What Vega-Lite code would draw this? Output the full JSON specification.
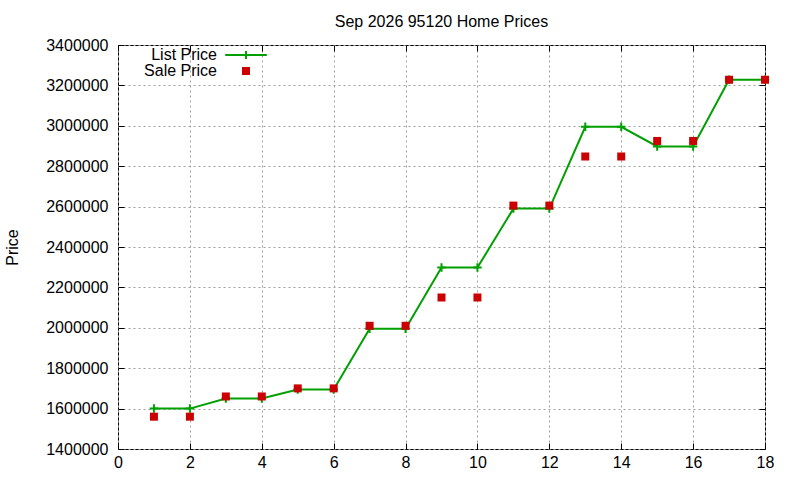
{
  "$schema": "https://vega.github.io/schema/vega-lite/v6.json",
  "autosize": "none",
  "width": 647,
  "height": 404,
  "padding": {"left": 118, "top": 45, "right": 35, "bottom": 31},
  "background": "white",
  "title": {
    "text": "Sep 2026 95120 Home Prices",
    "fontSize": 16,
    "font": "Liberation Sans",
    "fontWeight": "normal",
    "anchor": "middle",
    "frame": "group",
    "offset": 7,
    "color": "black"
  },
  "config": {
    "view": {"stroke": "black", "strokeWidth": 1},
    "axis": {
      "labelFont": "Liberation Sans",
      "labelFontSize": 16,
      "labelColor": "black",
      "titleFont": "Liberation Sans",
      "titleFontSize": 16,
      "titleColor": "black",
      "titleFontWeight": "normal",
      "domain": false,
      "tickColor": "black",
      "tickSize": -6,
      "tickWidth": 1,
      "gridColor": "#a0a0a0",
      "gridDash": [2, 3],
      "gridWidth": 1,
      "gridOpacity": 1,
      "labelFlush": false,
      "labelOverlap": false
    },
    "legend": {
      "orient": "none",
      "legendX": 120,
      "legendY": 2,
      "padding": 0,
      "rowPadding": 0,
      "labelFont": "Liberation Sans",
      "labelFontSize": 16,
      "labelColor": "black",
      "labelAlign": "right",
      "labelOffset": -37,
      "symbolSize": 64,
      "symbolStrokeWidth": 2
    }
  },
  "data": {
    "values": [
      {"month": 1, "series": "List Price", "price": 1600000},
      {"month": 2, "series": "List Price", "price": 1600000},
      {"month": 3, "series": "List Price", "price": 1650000},
      {"month": 4, "series": "List Price", "price": 1650000},
      {"month": 5, "series": "List Price", "price": 1695000},
      {"month": 6, "series": "List Price", "price": 1695000},
      {"month": 7, "series": "List Price", "price": 1995000},
      {"month": 8, "series": "List Price", "price": 1995000},
      {"month": 9, "series": "List Price", "price": 2298000},
      {"month": 10, "series": "List Price", "price": 2298000},
      {"month": 11, "series": "List Price", "price": 2590000},
      {"month": 12, "series": "List Price", "price": 2590000},
      {"month": 13, "series": "List Price", "price": 2995000},
      {"month": 14, "series": "List Price", "price": 2995000},
      {"month": 15, "series": "List Price", "price": 2898000},
      {"month": 16, "series": "List Price", "price": 2898000},
      {"month": 17, "series": "List Price", "price": 3228000},
      {"month": 18, "series": "List Price", "price": 3228000},
      {"month": 1, "series": "Sale Price", "price": 1560000},
      {"month": 2, "series": "Sale Price", "price": 1560000},
      {"month": 3, "series": "Sale Price", "price": 1660000},
      {"month": 4, "series": "Sale Price", "price": 1660000},
      {"month": 5, "series": "Sale Price", "price": 1700000},
      {"month": 6, "series": "Sale Price", "price": 1700000},
      {"month": 7, "series": "Sale Price", "price": 2010000},
      {"month": 8, "series": "Sale Price", "price": 2010000},
      {"month": 9, "series": "Sale Price", "price": 2150000},
      {"month": 10, "series": "Sale Price", "price": 2150000},
      {"month": 11, "series": "Sale Price", "price": 2605000},
      {"month": 12, "series": "Sale Price", "price": 2605000},
      {"month": 13, "series": "Sale Price", "price": 2848000},
      {"month": 14, "series": "Sale Price", "price": 2848000},
      {"month": 15, "series": "Sale Price", "price": 2925000},
      {"month": 16, "series": "Sale Price", "price": 2925000},
      {"month": 17, "series": "Sale Price", "price": 3228000},
      {"month": 18, "series": "Sale Price", "price": 3228000}
    ]
  },
  "layer": [
    {
      "transform": [{"filter": "datum.series === 'List Price'"}],
      "mark": {"type": "line", "color": "#00a000", "strokeWidth": 2},
      "encoding": {
        "x": {
          "field": "month",
          "type": "quantitative",
          "scale": {"domain": [0, 18], "nice": false, "zero": false},
          "axis": {
            "values": [0, 2, 4, 6, 8, 10, 12, 14, 16, 18],
            "title": null,
            "grid": true,
            "labelPadding": 11
          }
        },
        "y": {
          "field": "price",
          "type": "quantitative",
          "scale": {"domain": [1400000, 3400000], "nice": false, "zero": false},
          "axis": {
            "values": [1400000, 1600000, 1800000, 2000000, 2200000, 2400000, 2600000, 2800000, 3000000, 3200000, 3400000],
            "format": "d",
            "title": "Price",
            "titleAngle": -90,
            "titleX": -106,
            "titleY": 202,
            "titleBaseline": "middle",
            "titleAlign": "center",
            "labelPadding": 16,
            "grid": true
          }
        }
      }
    },
    {
      "transform": [{"filter": "datum.series === 'List Price'"}],
      "mark": {"type": "point", "shape": "M-1,0L1,0M0,-1L0,1", "size": 72, "strokeWidth": 2, "opacity": 1, "filled": false, "color": "#00a000"},
      "encoding": {
        "x": {"field": "month", "type": "quantitative", "axis": null},
        "y": {"field": "price", "type": "quantitative", "axis": null}
      }
    },
    {
      "transform": [{"filter": "datum.series === 'Sale Price'"}],
      "mark": {"type": "point", "size": 64, "strokeWidth": 2, "opacity": 1, "filled": false},
      "encoding": {
        "x": {
          "field": "month",
          "type": "quantitative",
          "axis": {
            "orient": "top",
            "values": [0, 2, 4, 6, 8, 10, 12, 14, 16, 18],
            "labels": false,
            "grid": false,
            "title": null
          }
        },
        "y": {
          "field": "price",
          "type": "quantitative",
          "axis": {
            "orient": "right",
            "values": [1400000, 1600000, 1800000, 2000000, 2200000, 2400000, 2600000, 2800000, 3000000, 3200000, 3400000],
            "labels": false,
            "grid": false,
            "title": null
          }
        },
        "shape": {
          "field": "series",
          "type": "nominal",
          "scale": {"domain": ["List Price", "Sale Price"], "range": ["M-5.2,0L5.2,0M0,-1L0,1", "square"]},
          "legend": {"title": null}
        },
        "fill": {
          "field": "series",
          "type": "nominal",
          "scale": {"domain": ["List Price", "Sale Price"], "range": ["#00a000", "#cc0000"]},
          "legend": {"title": null}
        },
        "stroke": {
          "field": "series",
          "type": "nominal",
          "scale": {"domain": ["List Price", "Sale Price"], "range": ["#00a000", "transparent"]},
          "legend": {"title": null}
        }
      }
    }
  ],
  "resolve": {"axis": {"x": "independent", "y": "independent"}}
}
